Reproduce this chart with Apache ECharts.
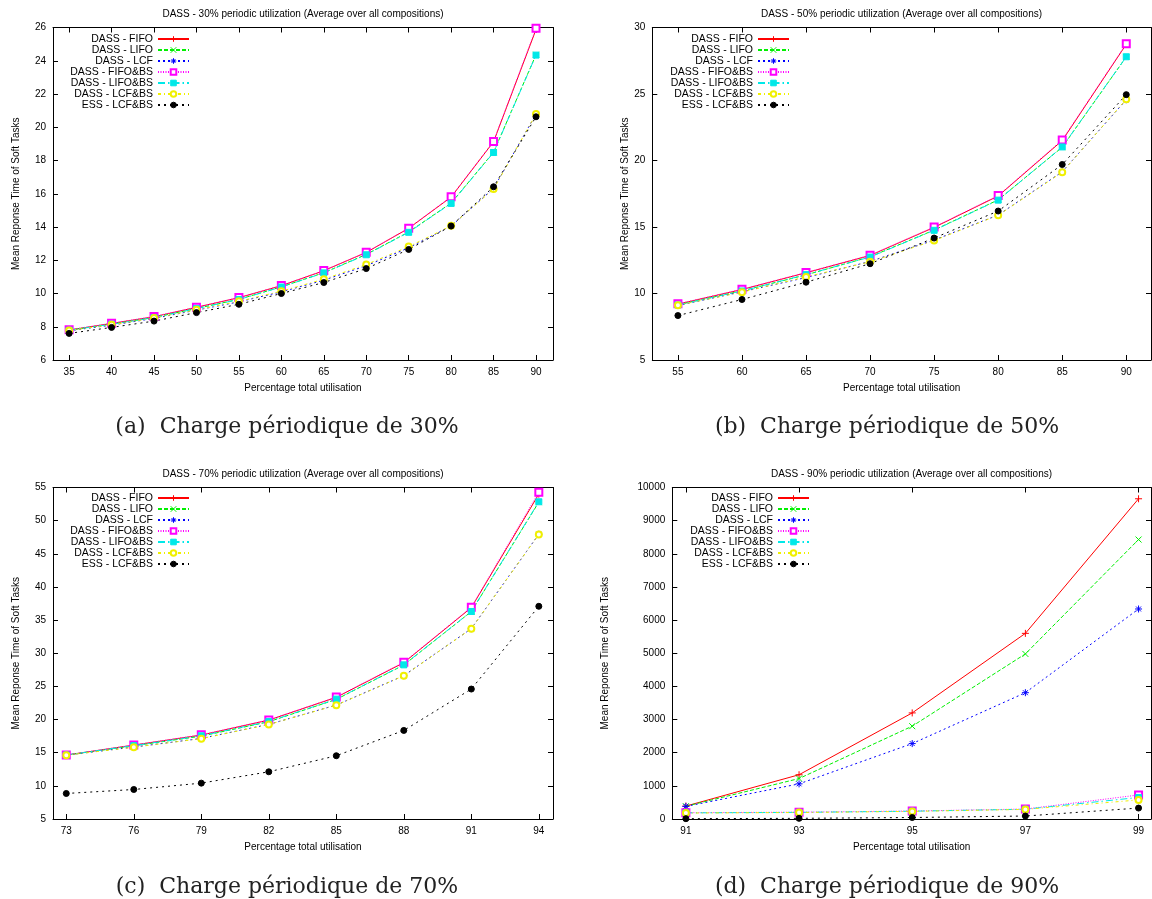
<!DOCTYPE html>
<html>
<head>
<meta charset="utf-8">
<script src="https://cdn.jsdelivr.net/npm/echarts@6/dist/echarts.min.js"></script>
<style>
  html, body { margin: 0; padding: 0; background: #ffffff; }
  #main { width: 1152px; height: 899px; }
</style>
</head>
<body>
<div id="main"></div>
<script>
// Scheduling policies compared in every panel
const seriesNames = ['DASS - FIFO', 'DASS - LIFO', 'DASS - LCF', 'DASS - FIFO&BS', 'DASS - LIFO&BS', 'DASS - LCF&BS', 'ESS - LCF&BS'];

// (a) 30% periodic load
const utilA    = [35, 40, 45, 50, 55, 60, 65, 70, 75, 80, 85, 90];
const fifoA    = [7.80, 8.20, 8.60, 9.17, 9.75, 10.47, 11.37, 12.47, 13.92, 15.80, 19.13, 25.88];
const lifoA    = [7.80, 8.16, 8.56, 9.10, 9.65, 10.40, 11.25, 12.35, 13.70, 15.44, 18.50, 24.36];
const lcfA     = [7.76, 8.10, 8.50, 9.00, 9.50, 10.10, 10.80, 11.67, 12.75, 14.06, 16.32, 20.79];
const fifoBsA  = [7.82, 8.21, 8.62, 9.18, 9.76, 10.48, 11.38, 12.48, 13.93, 15.82, 19.15, 25.95];
const lifoBsA  = [7.79, 8.15, 8.55, 9.09, 9.64, 10.39, 11.24, 12.33, 13.68, 15.42, 18.48, 24.34];
const lcfBsA   = [7.77, 8.12, 8.52, 9.02, 9.53, 10.14, 10.86, 11.74, 12.82, 14.07, 16.28, 20.80];
const essA     = [7.60, 7.96, 8.34, 8.85, 9.35, 10.00, 10.66, 11.50, 12.65, 14.06, 16.42, 20.63];

// (b) 50% periodic load
const utilB    = [55, 60, 65, 70, 75, 80, 85, 90];
const fifoB    = [9.20, 10.30, 11.56, 12.86, 14.97, 17.33, 21.50, 28.74];
const lifoB    = [9.15, 10.20, 11.40, 12.76, 14.77, 17.04, 21.00, 27.79];
const lcfB     = [9.10, 10.13, 11.20, 12.41, 14.02, 15.90, 19.15, 24.57];
const fifoBsB  = [9.22, 10.32, 11.58, 12.88, 15.00, 17.36, 21.55, 28.78];
const lifoBsB  = [9.14, 10.19, 11.42, 12.74, 14.75, 17.02, 21.02, 27.80];
const lcfBsB   = [9.12, 10.10, 11.25, 12.38, 13.98, 15.88, 19.12, 24.60];
const essB     = [8.34, 9.55, 10.85, 12.24, 14.17, 16.20, 19.70, 24.95];

// (c) 70% periodic load
const utilC    = [73, 76, 79, 82, 85, 88, 91, 94];
const fifoC    = [14.64, 16.15, 17.66, 19.92, 23.35, 28.58, 36.88, 54.00];
const lifoC    = [14.64, 16.05, 17.50, 19.67, 23.04, 28.23, 36.28, 52.79];
const lcfC     = [14.64, 15.85, 17.15, 19.27, 22.19, 26.62, 33.71, 47.95];
const fifoBsC  = [14.66, 16.17, 17.70, 19.95, 23.40, 28.65, 36.95, 54.30];
const lifoBsC  = [14.65, 16.07, 17.55, 19.70, 23.08, 28.25, 36.30, 52.85];
const lcfBsC   = [14.62, 15.83, 17.12, 19.25, 22.17, 26.60, 33.70, 47.92];
const essC     = [8.85, 9.45, 10.41, 12.12, 14.54, 18.36, 24.60, 37.08];

// (d) 90% periodic load
const utilD    = [91, 93, 95, 97, 99];
const fifoD    = [390, 1335, 3200, 5600, 9660];
const lifoD    = [385, 1220, 2800, 4980, 8430];
const lcfD     = [380, 1060, 2275, 3810, 6335];
const fifoBsD  = [190, 205, 240, 300, 725];
const lifoBsD  = [185, 200, 235, 295, 650];
const lcfBsD   = [180, 195, 230, 290, 575];
const essD     = [10, 20, 45, 90, 330];

const FONT = "'Liberation Sans', Arial, Helvetica, sans-serif";
const SERIF = "'DejaVu Serif', 'Liberation Serif', serif";

// gnuplot-like point types
const PLUS  = 'path://M0,5L10,5M5,0L5,10';
const CROSS = 'path://M0,0L10,10M0,10L10,0';
const STAR  = 'path://M0,5L10,5M5,0L5,10M1.5,1.5L8.5,8.5M1.5,8.5L8.5,1.5';

const styles = [
  { color: '#ff0000', dash: 'solid',        symbol: PLUS,          size: 7 },
  { color: '#00f000', dash: [4, 2],         symbol: CROSS,         size: 6 },
  { color: '#0000ff', dash: [2, 3],         symbol: STAR,          size: 7 },
  { color: '#ff00ff', dash: [1, 1.5],       symbol: 'emptyRect',   size: 7 },
  { color: '#00e8e8', dash: [7, 3, 1.5, 3], symbol: 'rect',        size: 6 },
  { color: '#f0f000', dash: [3, 3, 1, 3],   symbol: 'emptyCircle', size: 6 },
  { color: '#000000', dash: [2, 4],         symbol: 'circle',      size: 6 }
];

const panels = [
  {
    title: 'DASS - 30% periodic utilization (Average over all compositions)',
    caption: '(a)  Charge périodique de 30%',
    util: utilA, values: [fifoA, lifoA, lcfA, fifoBsA, lifoBsA, lcfBsA, essA],
    grid: { left: 53, top: 27.5, width: 500, height: 332.5 },
    xMin: 33.1, xMax: 92, yMin: 6, yMax: 26, yStep: 2, yNameGap: 32,
    legendRight: 1152 - 190, legendTop: 33.5, titleX: 303, titleY: 14.5, captionX: 287, captionY: 427
  },
  {
    title: 'DASS - 50% periodic utilization (Average over all compositions)',
    caption: '(b)  Charge périodique de 50%',
    util: utilB, values: [fifoB, lifoB, lcfB, fifoBsB, lifoBsB, lcfBsB, essB],
    grid: { left: 652.3, top: 27.5, width: 498.7, height: 332.5 },
    xMin: 53, xMax: 91.93, yMin: 5, yMax: 30, yStep: 5, yNameGap: 22,
    legendRight: 1152 - 790, legendTop: 33.5, titleX: 901.5, titleY: 14.5, captionX: 887, captionY: 427
  },
  {
    title: 'DASS - 70% periodic utilization (Average over all compositions)',
    caption: '(c)  Charge périodique de 70%',
    util: utilC, values: [fifoC, lifoC, lcfC, fifoBsC, lifoBsC, lcfBsC, essC],
    grid: { left: 53, top: 487.5, width: 500, height: 331.5 },
    xMin: 72.41, xMax: 94.63, yMin: 5, yMax: 55, yStep: 5, yNameGap: 32,
    legendRight: 1152 - 190, legendTop: 492.5, titleX: 303, titleY: 474, captionX: 287, captionY: 887
  },
  {
    title: 'DASS - 90% periodic utilization (Average over all compositions)',
    caption: '(d)  Charge périodique de 90%',
    util: utilD, values: [fifoD, lifoD, lcfD, fifoBsD, lifoBsD, lcfBsD, essD],
    grid: { left: 672.3, top: 487.5, width: 478.7, height: 331.5 },
    xMin: 90.76, xMax: 99.22, yMin: 0, yMax: 10000, yStep: 1000, yNameGap: 62,
    legendRight: 1152 - 810, legendTop: 492.5, titleX: 911.5, titleY: 474, captionX: 887, captionY: 887
  }
];

const option = {
  animation: false,
  backgroundColor: '#ffffff',
  textStyle: { fontFamily: FONT },
  grid: [], xAxis: [], yAxis: [], series: [], legend: [], graphic: []
};

const tickStyle = { inside: true, length: 5, lineStyle: { color: '#000', width: 1 } };
const lineStyle = { show: true, onZero: false, lineStyle: { color: '#000', width: 1 } };
const plain = v => String(v);

panels.forEach((p, k) => {
  option.grid.push(Object.assign({ containLabel: false }, p.grid));

  // bottom axis with labels, top axis mirrors the ticks
  option.xAxis.push({
    type: 'value', gridIndex: k, position: 'bottom', min: p.xMin, max: p.xMax,
    axisLine: lineStyle, splitLine: { show: false },
    axisTick: Object.assign({ customValues: p.util }, tickStyle),
    axisLabel: { customValues: p.util, formatter: plain, color: '#000', fontSize: 10, margin: 7, fontFamily: FONT },
    name: 'Percentage total utilisation', nameLocation: 'middle', nameGap: 23,
    nameTextStyle: { color: '#000', fontSize: 10, fontFamily: FONT }
  });
  option.xAxis.push({
    type: 'value', gridIndex: k, position: 'top', min: p.xMin, max: p.xMax,
    axisLine: lineStyle, splitLine: { show: false },
    axisTick: Object.assign({ customValues: p.util }, tickStyle),
    axisLabel: { show: false }
  });

  option.yAxis.push({
    type: 'value', gridIndex: k, position: 'left', min: p.yMin, max: p.yMax, interval: p.yStep,
    axisLine: lineStyle, splitLine: { show: false }, axisTick: tickStyle,
    axisLabel: { formatter: plain, color: '#000', fontSize: 10, margin: 7, fontFamily: FONT },
    name: 'Mean Reponse Time of Soft Tasks', nameLocation: 'middle', nameGap: p.yNameGap,
    nameTextStyle: { color: '#000', fontSize: 10, fontFamily: FONT }
  });
  option.yAxis.push({
    type: 'value', gridIndex: k, position: 'right', min: p.yMin, max: p.yMax, interval: p.yStep,
    axisLine: lineStyle, splitLine: { show: false }, axisTick: tickStyle,
    axisLabel: { show: false }
  });

  seriesNames.forEach((name, i) => {
    const s = styles[i];
    option.series.push({
      type: 'line', name: name,
      xAxisIndex: 2 * k, yAxisIndex: 2 * k,
      data: p.util.map((u, j) => [u, p.values[i][j]]),
      symbol: s.symbol, symbolSize: s.size, showSymbol: true,
      lineStyle: { color: s.color, width: 1, type: s.dash },
      itemStyle: { color: s.color, borderColor: s.color, borderWidth: 1 },
      emphasis: { disabled: true },
      silent: true
    });
  });

  option.legend.push({
    orient: 'vertical', align: 'right', right: p.legendRight, top: p.legendTop,
    padding: 0, itemGap: 0, itemWidth: 31, itemHeight: 7,
    selectedMode: false, data: seriesNames,
    itemStyle: { borderWidth: 1 },
    textStyle: { color: '#000', fontSize: 10.5, lineHeight: 11, fontFamily: FONT }
  });

  option.graphic.push({
    type: 'text', x: p.titleX, y: p.titleY, silent: true,
    style: { text: p.title, fill: '#000', font: '10px ' + FONT, align: 'center', verticalAlign: 'middle' }
  });
  option.graphic.push({
    type: 'text', x: p.captionX, y: p.captionY, silent: true,
    style: { text: p.caption, fill: '#222', font: '22px ' + SERIF, align: 'center', verticalAlign: 'middle' }
  });
});

const chart = echarts.init(document.getElementById('main'), null, { renderer: 'canvas' });
chart.setOption(option);
</script>
</body>
</html>
